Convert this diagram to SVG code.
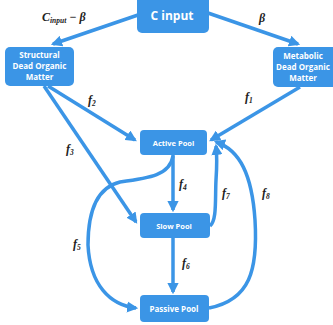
<svg xmlns="http://www.w3.org/2000/svg" width="333" height="325" viewBox="0 0 333 325">
<style>
.box{fill:#3b95e6}
.t{font-family:"Open Sans","Liberation Sans",sans-serif;font-weight:bold;fill:#fff;text-anchor:middle}
.e{fill:none;stroke:#3b95e6;stroke-width:3.5}
.l{font-family:"Liberation Serif",serif;font-style:italic;font-weight:bold;font-size:12px;fill:#222}
.s{font-size:7.5px}
</style>
<defs>
<marker id="a" viewBox="0 0 10 10" refX="8" refY="5" markerWidth="3.2" markerHeight="3.2" orient="auto" markerUnits="strokeWidth">
<path d="M0,0L10,5L0,10z" fill="#3b95e6"/>
</marker>
</defs>
<rect width="333" height="325" fill="#fff"/>
<g id="connectors">
<path class="e" d="M138,15L53,44" marker-end="url(#a)"/>
<path class="e" d="M208,13L298,44" marker-end="url(#a)"/>
<path class="e" d="M48,86L135,140" marker-end="url(#a)"/>
<path class="e" d="M300,87L211,140" marker-end="url(#a)"/>
<path class="e" d="M44,86L136,222" marker-end="url(#a)"/>
<path class="e" d="M173,155L173,210" marker-end="url(#a)"/>
<path class="e" d="M173,238L173,292" marker-end="url(#a)"/>
<path class="e" d="M210,226C217,220 215,200 216,180C217,165 217,155 216,146" marker-end="url(#a)"/>
<path class="e" d="M209,308C250,300 258,270 255,220C252,175 240,150 216,142" marker-end="url(#a)"/>
<path class="e" d="M173,156C170,175 150,178 120,182C95,188 88,215 88,245C90,285 110,305 136,308" marker-end="url(#a)"/>
</g>
<g id="labels">
<text class="l" x="42" y="21">C<tspan class="s" dy="2">input</tspan><tspan dy="-2"> − β</tspan></text>
<text class="l" x="259" y="22">β</text>
<text class="l" x="88" y="104">f<tspan class="s" dy="2">2</tspan></text>
<text class="l" x="245" y="101">f<tspan class="s" dy="2">1</tspan></text>
<text class="l" x="66" y="153">f<tspan class="s" dy="2">3</tspan></text>
<text class="l" x="179" y="188">f<tspan class="s" dy="2">4</tspan></text>
<text class="l" x="222" y="197">f<tspan class="s" dy="2">7</tspan></text>
<text class="l" x="262" y="197">f<tspan class="s" dy="2">8</tspan></text>
<text class="l" x="73" y="248">f<tspan class="s" dy="2">5</tspan></text>
<text class="l" x="182" y="267">f<tspan class="s" dy="2">6</tspan></text>
</g>
<g id="cinput"><rect class="box" x="137" y="-4" width="72" height="37" rx="5"/><text class="t" x="172" y="19.5" font-size="12">C input</text></g>
<g id="structural"><rect class="box" x="5" y="47" width="69" height="39" rx="5"/><text class="t" font-size="8"><tspan x="39.5" y="58">Structural</tspan><tspan x="39.5" y="69">Dead Organic</tspan><tspan x="39.5" y="79.5">Matter</tspan></text></g>
<g id="metabolic"><rect class="box" x="273" y="47" width="65" height="40" rx="5"/><text class="t" font-size="8"><tspan x="303" y="59">Metabolic</tspan><tspan x="303" y="70">Dead Organic</tspan><tspan x="303" y="81">Matter</tspan></text></g>
<g id="active"><rect class="box" x="140" y="130" width="67" height="25" rx="4"/><text class="t" x="173.5" y="145.5" font-size="7.5">Active Pool</text></g>
<g id="slow"><rect class="box" x="140" y="213" width="70" height="25" rx="4"/><text class="t" x="174" y="228.5" font-size="7.5">Slow Pool</text></g>
<g id="passive"><rect class="box" x="140" y="295" width="69" height="27" rx="4"/><text class="t" x="174" y="311.5" font-size="8">Passive Pool</text></g>
</svg>
